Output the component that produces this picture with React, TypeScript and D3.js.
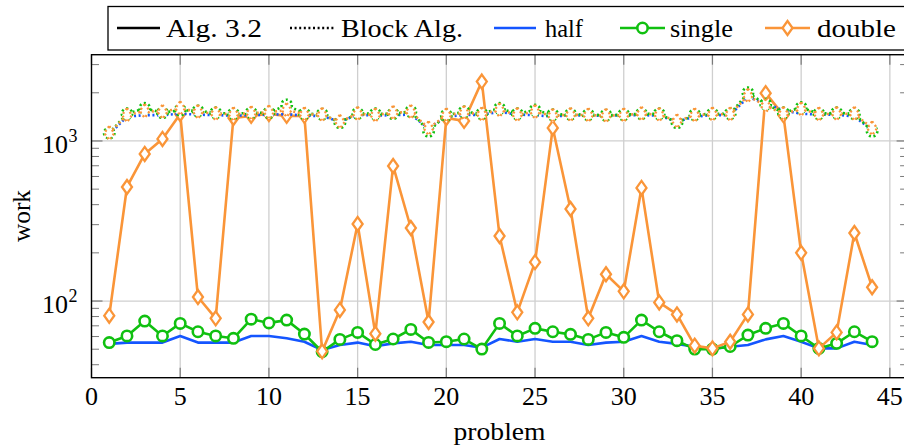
import * as d3 from 'd3';
import React from 'react';

// problem index 1..44
const problems = d3.range(1, 45);

// Alg. 3.2 (solid)
const algHalf = [54, 55, 55, 55, 60.5, 55, 55, 55, 60.5, 60.5, 58.5, 55.7, 49.4, 53.1, 55, 52.2,
  54.4, 55.7, 53.1, 53.1, 53.1, 51.1, 57.9, 55.7, 57.9, 55.7, 55.7, 53.1, 55, 55.7,
  60.5, 55.7, 54, 51.8, 50.1, 51.8, 53.1, 57.6, 60.5, 55.7, 50.6, 50.6, 55.7, 53.1];
const algSingle = [55, 60.5, 75, 60.5, 72.5, 64.3, 60.5, 58.5, 77, 73, 76, 62.2, 48.2, 57.6, 63.7, 53.5,
  57.9, 66.5, 55.1, 55.7, 57.9, 50.1, 72.5, 60.5, 67.5, 64.3, 61.9, 57.6, 63.7, 59.3,
  76, 64.3, 56.5, 50.1, 50.1, 52, 61.3, 67.5, 72.5, 60.5, 50.6, 54.4, 64.3, 55.7];
const algDouble = [81, 516, 830, 1030, 1475, 106, 78, 1393, 1435, 1475, 1435, 1435, 48.5, 88, 303, 62.5,
  698, 286, 74, 1393, 1335, 2350, 255, 85, 175, 1206, 376, 78, 147, 115,
  509, 98, 82.5, 52.6, 50.6, 55.7, 82.5, 1990, 1450, 200, 50.6, 63.7, 266, 122];

// Block Alg. (dotted)
const blockHalf = [1100, 1420, 1450, 1450, 1480, 1460, 1450, 1440, 1450, 1460, 1470, 1440, 1430, 1320, 1460, 1440,
  1450, 1460, 1200, 1420, 1450, 1460, 1520, 1460, 1450, 1420, 1450, 1440, 1440, 1450,
  1450, 1440, 1320, 1420, 1450, 1450, 1880, 1720, 1550, 1480, 1460, 1460, 1420, 1170];
const blockSingle = [1120, 1480, 1600, 1500, 1560, 1540, 1500, 1480, 1500, 1500, 1680, 1480, 1470, 1300, 1490, 1480,
  1480, 1530, 1150, 1450, 1520, 1480, 1600, 1480, 1560, 1460, 1470, 1460, 1450, 1460,
  1480, 1480, 1300, 1460, 1480, 1480, 2000, 1700, 1500, 1620, 1480, 1500, 1480, 1150];
const blockDouble = [1120, 1450, 1540, 1520, 1600, 1520, 1480, 1470, 1490, 1510, 1560, 1470, 1460, 1320, 1480, 1450,
  1500, 1520, 1200, 1450, 1500, 1470, 1560, 1460, 1520, 1440, 1460, 1450, 1440, 1450,
  1480, 1460, 1330, 1450, 1470, 1470, 1920, 1660, 1480, 1580, 1470, 1480, 1480, 1200];

const xTicks = [0, 5, 10, 15, 20, 25, 30, 35, 40, 45];
const yMajor = [100, 1000];

const BLUE = '#1455ff';
const GREEN = '#10c010';
const ORANGE = '#fa9538';
const DOT = '2 2.6';
const FONT = '"Liberation Serif", "DejaVu Serif", serif';

const left = 91.5, right = 907.6, top = 54.7, bottom = 377.7;

const x = d3.scaleLinear().domain([0, 46]).range([left, right]);
const y = d3.scaleLog().domain([Math.pow(10, 1.521), Math.pow(10, 3.539)]).range([bottom, top]);

const yMinor: number[] = [];
[10, 100, 1000].forEach(b => d3.range(2, 10).forEach(m => {
  const v = b * m;
  if (v > y.domain()[0] && v < y.domain()[1]) yMinor.push(v);
}));

type Mark = 'none' | 'circle' | 'diamond';

const series = [
  { values: algHalf, color: BLUE, dash: undefined, mark: 'none' as Mark },
  { values: algSingle, color: GREEN, dash: undefined, mark: 'circle' as Mark },
  { values: algDouble, color: ORANGE, dash: undefined, mark: 'diamond' as Mark },
  { values: blockHalf, color: BLUE, dash: DOT, mark: 'none' as Mark },
  { values: blockSingle, color: GREEN, dash: DOT, mark: 'circle' as Mark },
  { values: blockDouble, color: ORANGE, dash: DOT, mark: 'diamond' as Mark },
];

const diamond = (cx: number, cy: number) =>
  `M${cx},${cy - 7}L${cx + 5},${cy}L${cx},${cy + 7}L${cx - 5},${cy}Z`;

function Marker({ kind, cx, cy, color, dash }: { kind: Mark; cx: number; cy: number; color: string; dash?: string }) {
  if (kind === 'circle')
    return <circle cx={cx} cy={cy} r={5.2} fill="white" stroke={color} strokeWidth={2.6} strokeDasharray={dash} />;
  if (kind === 'diamond')
    return <path d={diamond(cx, cy)} fill="white" stroke={color} strokeWidth={2.3} strokeDasharray={dash} />;
  return null;
}

export default function App() {
  const line = d3.line<number>().x((_, i) => x(problems[i])).y(d => y(d));

  const legend = [
    { x0: 117, x1: 160, tx: 166, w: 96, label: 'Alg. 3.2', color: '#000', dash: undefined, mark: 'none' as Mark },
    { x0: 290, x1: 335, tx: 341, w: 122, label: 'Block Alg.', color: '#000', dash: DOT, mark: 'none' as Mark },
    { x0: 494, x1: 536, tx: 545, w: 38, label: 'half', color: BLUE, dash: undefined, mark: 'none' as Mark },
    { x0: 620, x1: 665, tx: 670, w: 63, label: 'single', color: GREEN, dash: undefined, mark: 'circle' as Mark },
    { x0: 765, x1: 810, tx: 817, w: 79, label: 'double', color: ORANGE, dash: undefined, mark: 'diamond' as Mark },
  ];
  const ly = 28;

  return (
    <svg width={904} height={447} style={{ position: 'absolute', left: 0, top: 0 }} fontFamily={FONT}>
      {/* grid */}
      {xTicks.filter(t => t > 0).map(t => (
        <line key={'gx' + t} x1={x(t)} x2={x(t)} y1={top} y2={bottom} stroke="#cfcfcf" strokeWidth={1.3} />
      ))}
      {yMajor.map(t => (
        <line key={'gy' + t} x1={left} x2={right} y1={y(t)} y2={y(t)} stroke="#cfcfcf" strokeWidth={1.3} />
      ))}
      {/* ticks */}
      {xTicks.map(t => (
        <g key={'tx' + t} stroke="#7a7a7a" strokeWidth={1.2}>
          <line x1={x(t)} x2={x(t)} y1={bottom} y2={bottom - 10} />
          <line x1={x(t)} x2={x(t)} y1={top} y2={top + 10} />
        </g>
      ))}
      {yMajor.map(t => (
        <g key={'ty' + t} stroke="#7a7a7a" strokeWidth={1.2}>
          <line x1={left} x2={left + 11} y1={y(t)} y2={y(t)} />
          <line x1={right} x2={right - 11} y1={y(t)} y2={y(t)} />
        </g>
      ))}
      {yMinor.map(t => (
        <g key={'tm' + t} stroke="#7a7a7a" strokeWidth={1}>
          <line x1={left} x2={left + 7.5} y1={y(t)} y2={y(t)} />
          <line x1={right} x2={right - 7.5} y1={y(t)} y2={y(t)} />
        </g>
      ))}
      {/* series */}
      {series.map((s, i) => (
        <g key={'s' + i}>
          <path d={line(s.values) || ''} fill="none" stroke={s.color} strokeWidth={2.6}
            strokeDasharray={s.dash} strokeLinejoin="round" />
          {s.values.map((v, j) => (
            <Marker key={j} kind={s.mark} cx={x(problems[j])} cy={y(v)} color={s.color} dash={s.dash} />
          ))}
        </g>
      ))}
      {/* frame */}
      <rect x={left} y={top} width={right - left} height={bottom - top} fill="none" stroke="#000" strokeWidth={1.4} />
      {/* tick labels */}
      {xTicks.map(t => (
        <text key={'lx' + t} x={x(t)} y={405} fontSize={26} textAnchor="middle">{t}</text>
      ))}
      {yMajor.map(t => (
        <g key={'ly' + t}>
          <text x={68} y={y(t) + 12} fontSize={26} textAnchor="end">10</text>
          <text x={68.5} y={y(t) + 1} fontSize={18}>{Math.round(Math.log10(t))}</text>
        </g>
      ))}
      {/* axis labels */}
      <text x={(left + right) / 2} y={440} fontSize={26} textAnchor="middle" textLength={92}
        lengthAdjust="spacingAndGlyphs">problem</text>
      <text transform="translate(30,216) rotate(-90)" fontSize={26} textAnchor="middle" textLength={52}
        lengthAdjust="spacingAndGlyphs">work</text>
      {/* legend */}
      <rect x={108} y={6.5} width={800} height={43.5} fill="white" stroke="#000" strokeWidth={1.3} />
      {legend.map(e => (
        <g key={e.label}>
          <line x1={e.x0} x2={e.x1} y1={ly} y2={ly} stroke={e.color} strokeWidth={2.6} strokeDasharray={e.dash} />
          <Marker kind={e.mark} cx={(e.x0 + e.x1) / 2} cy={ly} color={e.color} />
          <text x={e.tx} y={ly + 9} fontSize={26} textLength={e.w} lengthAdjust="spacingAndGlyphs">{e.label}</text>
        </g>
      ))}
    </svg>
  );
}
